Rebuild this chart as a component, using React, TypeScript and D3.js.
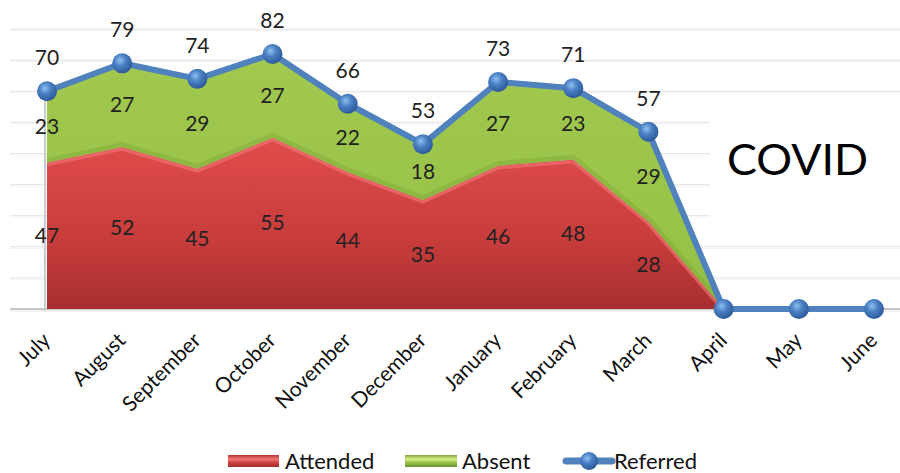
import React from "react";
import * as d3 from "d3";

const months = ["July","August","September","October","November","December","January","February","March","April","May","June"];
const attended = [47,52,45,55,44,35,46,48,28,0,0,0];
const absent = [23,27,29,27,22,18,27,23,29,0,0,0];
const referred = [70,79,74,82,66,53,73,71,57,0,0,0];
const areaCount = 10; // areas drawn through April
const gridTicks = [10,20,30,40,50,60,70,80,90];
const labelFont = "Lato, 'Open Sans', sans-serif";

export default function App() {
  const W = 900, H = 473;
  const x = d3.scalePoint<string>().domain(months).range([47, 874]);
  const y = d3.scaleLinear().domain([0, 100]).range([309, -2]);

  const rows = months.slice(0, areaCount).map((m, i) => ({ m, a: attended[i], b: absent[i] }));
  const redArea = d3.area<any>().x(d => x(d.m)!).y0(y(0)).y1(d => y(d.a));
  const greenArea = d3.area<any>().x(d => x(d.m)!).y0(d => y(d.a)).y1(d => y(d.a + d.b));
  const redTop = d3.line<any>().x(d => x(d.m)!).y(d => y(d.a));
  const refLine = d3.line<number>().x((_, i) => x(months[i])!).y(d => y(d));

  return (
    <svg width={W} height={H} style={{ position: "absolute", left: 0, top: 0 }}>
      <defs>
        <linearGradient id="red" x1="0" y1="0" x2="0" y2="1" gradientUnits="objectBoundingBox">
          <stop offset="0" stopColor="#e04c4c" />
          <stop offset="0.6" stopColor="#c83c3c" />
          <stop offset="1" stopColor="#a62f2f" />
        </linearGradient>
        <linearGradient id="green" x1="0" y1="0" x2="0" y2="1">
          <stop offset="0" stopColor="#a2c94f" />
          <stop offset="1" stopColor="#94bf45" />
        </linearGradient>
        <radialGradient id="ball" cx="0.4" cy="0.35" r="0.65">
          <stop offset="0" stopColor="#8ec0f0" />
          <stop offset="0.45" stopColor="#4a80c4" />
          <stop offset="1" stopColor="#2d5a9a" />
        </radialGradient>
        <linearGradient id="legRed" x1="0" y1="0" x2="0" y2="1">
          <stop offset="0" stopColor="#b83030" />
          <stop offset="0.35" stopColor="#f07a7a" />
          <stop offset="0.6" stopColor="#d04444" />
          <stop offset="1" stopColor="#9e2a2a" />
        </linearGradient>
        <linearGradient id="legGreen" x1="0" y1="0" x2="0" y2="1">
          <stop offset="0" stopColor="#7ea43a" />
          <stop offset="0.35" stopColor="#d8f08a" />
          <stop offset="0.6" stopColor="#9cc84c" />
          <stop offset="1" stopColor="#6a9030" />
        </linearGradient>
      </defs>
      <rect width={W} height={H} fill="#ffffff" />
      {gridTicks.map(t => (
        <g key={t}>
          <line x1={10} x2={900} y1={y(t)} y2={y(t)} stroke="#e4e4e4" strokeWidth={1} />
          <line x1={10} x2={900} y1={y(t) + 1.5} y2={y(t) + 1.5} stroke="#f2f2f2" strokeWidth={1} />
        </g>
      ))}
      <line x1={10} x2={900} y1={y(0)} y2={y(0)} stroke="#c8c8c8" strokeWidth={2} />
      <line x1={10} x2={900} y1={y(0) + 2} y2={y(0) + 2} stroke="#e6e6e6" strokeWidth={1} />
      <rect x={710} y={100} width={190} height={132} fill="#ffffff" />
      <text x={727} y={175} fontFamily={labelFont} fontSize={43} fill="#000" textLength={141} lengthAdjust="spacingAndGlyphs">COVID</text>

      <line x1={45} x2={45} y1={y(70)} y2={y(0) + 2} stroke="#cccccc" strokeWidth={2} />
      <path d={greenArea(rows)!} fill="url(#green)" />
      <path d={redTop(rows)!} fill="none" stroke="#6d9a2e" strokeWidth={6} transform="translate(0,-2)" opacity={0.3} />
      <path d={redArea(rows)!} fill="url(#red)" />
      <path d={redTop(rows)!} fill="none" stroke="#f07272" strokeWidth={3} transform="translate(0,2)" opacity={0.7} />

      <path d={refLine(referred)!} fill="none" stroke="#4f81bd" strokeWidth={6} strokeLinejoin="round" />
      {referred.map((v, i) => (
        <circle key={i} cx={x(months[i])} cy={y(v)} r={10} fill="url(#ball)" />
      ))}

      {referred.slice(0, 9).map((v, i) => (
        <text key={"r" + i} x={x(months[i])} y={y(v) - 26} textAnchor="middle" fontFamily={labelFont} fontSize={21} fill="#222">{v}</text>
      ))}
      {absent.slice(0, 9).map((v, i) => (
        <text key={"b" + i} x={x(months[i])} y={y(attended[i] + v / 2) + 7} textAnchor="middle" fontFamily={labelFont} fontSize={21} fill="#222">{v}</text>
      ))}
      {attended.slice(0, 9).map((v, i) => (
        <text key={"a" + i} x={x(months[i])} y={y(v / 2) + 7} textAnchor="middle" fontFamily={labelFont} fontSize={21} fill="#222">{v}</text>
      ))}

      {months.map(m => (
        <text key={m} transform={`translate(${x(m)! - 6},${331}) rotate(-45)`} textAnchor="end" dy="0.72em" fontFamily={labelFont} fontSize={21} fill="#111">{m}</text>
      ))}

      <g fontFamily={labelFont} fontSize={22} fill="#111">
        <rect x={228} y={455} width={51} height={12} fill="url(#legRed)" />
        <text x={285} y={469}>Attended</text>
        <rect x={405} y={455} width={52} height={12} fill="url(#legGreen)" />
        <text x={462} y={469}>Absent</text>
        <line x1={566} x2={612} y1={461} y2={461} stroke="#4f81bd" strokeWidth={7} strokeLinecap="round" />
        <circle cx={589} cy={461} r={9} fill="url(#ball)" />
        <text x={614} y={469}>Referred</text>
      </g>
    </svg>
  );
}
